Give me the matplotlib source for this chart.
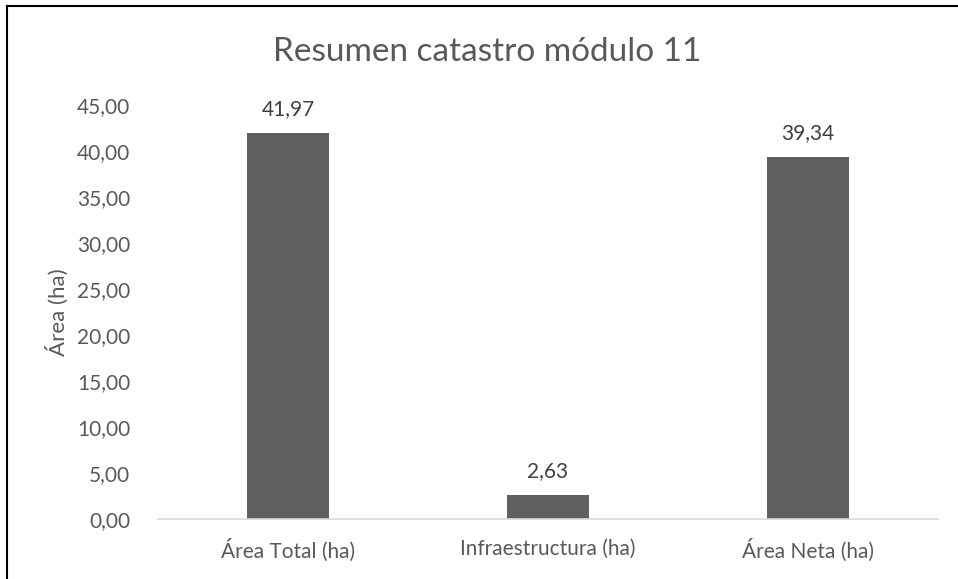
import matplotlib
matplotlib.use('Agg')
import matplotlib.pyplot as plt
from matplotlib.lines import Line2D

categorias = ['Área Total (ha)', 'Infraestructura (ha)', 'Área Neta (ha)']
valores = [41.97, 2.63, 39.34]
ticks_y = [0, 5, 10, 15, 20, 25, 30, 35, 40, 45]

plt.rcParams['font.family'] = ['Lato', 'DejaVu Sans']

fig = plt.figure(figsize=(9.58, 5.79), dpi=100)
ax = fig.add_axes([158/958, 1 - 519/579, 780/958, 414/579])

x = range(len(categorias))
ax.bar(x, valores, width=0.315, color='#5f5f5f', zorder=2)
for xi, v in zip(x, valores):
    ax.text(xi, v + 1.5, f'{v:.2f}'.replace('.', ','), ha='center', va='bottom',
            fontsize=15, color='#404040')

ax.set_xlim(-0.5, 2.5)
ax.set_ylim(0, 45)
ax.set_yticks(ticks_y)
ax.set_yticklabels([f'{t:.2f}'.replace('.', ',') for t in ticks_y])
ax.set_xticks(list(x))
ax.set_xticklabels(categorias)
ax.tick_params(axis='both', length=0, labelsize=15, labelcolor='#595959')
ax.tick_params(axis='y', pad=20)
ax.tick_params(axis='x', pad=14)

for s in ['top', 'right', 'left']:
    ax.spines[s].set_visible(False)
ax.spines['bottom'].set_color('#d9d9d9')
ax.spines['bottom'].set_linewidth(1.2)

ax.set_ylabel('Área (ha)', fontsize=16, color='#595959', labelpad=6)
fig.text(487/958, 1 - 52/579, 'Resumen catastro módulo 11', ha='center', va='center',
         fontsize=24, color='#595959')

# borde del grafico (solo arriba e izquierda visibles)
fig.add_artist(Line2D([7/958, 7/958], [0, 1 - 6/579], transform=fig.transFigure, color='black', lw=1.5))
fig.add_artist(Line2D([7/958, 1], [1 - 6/579, 1 - 6/579], transform=fig.transFigure, color='black', lw=1.5))

fig.savefig('out.png', dpi=100)
